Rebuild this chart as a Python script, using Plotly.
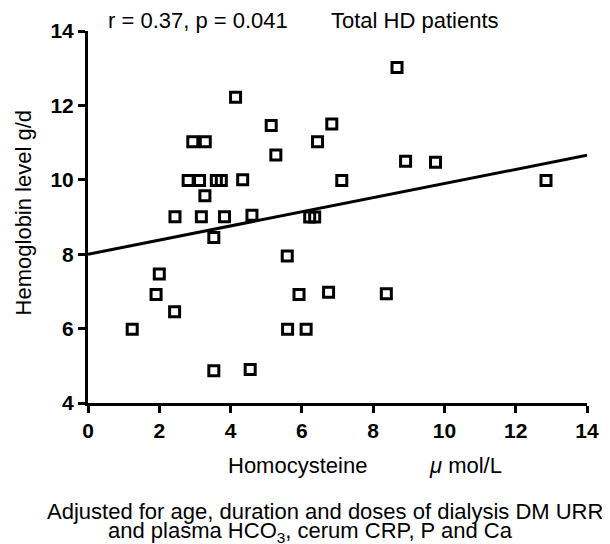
import plotly.graph_objects as go

# Homocysteine (µmol/L) vs hemoglobin (g/dl) values
homocysteine = [1.24, 1.91, 2.00, 2.43, 2.44, 2.81, 2.94, 3.13, 3.18, 3.29,
                3.28, 3.53, 3.53, 3.60, 3.74, 3.83, 4.14, 4.34, 4.55,
                4.60, 5.14, 5.27, 5.59, 5.60, 5.92, 6.12, 6.22, 6.36,
                6.44, 6.75, 6.84, 7.12, 8.37, 8.67, 8.91, 9.75, 12.85]
hemoglobin = [5.98, 6.92, 7.47, 6.45, 9.01, 9.98, 11.02, 9.98, 9.01, 11.02,
              9.57, 8.45, 4.87, 9.98, 9.98, 9.01, 12.22, 10.00, 4.90,
              9.05, 11.46, 10.67, 7.95, 5.98, 6.92, 5.98, 9.00, 9.00,
              11.02, 6.98, 11.50, 9.98, 6.94, 13.02, 10.50, 10.47, 9.98]

# Regression line end points (adjusted fit)
fit_x = [0, 14]
fit_y = [8.0, 10.66]

x_ticks = [0, 2, 4, 6, 8, 10, 12, 14]
y_ticks = [4, 6, 8, 10, 12, 14]

FONT = "Liberation Sans, Arial, sans-serif"

fig = go.Figure()
fig.add_trace(go.Scatter(
    x=fit_x, y=fit_y, mode="lines",
    line=dict(color="black", width=3), hoverinfo="skip", cliponaxis=False))
fig.add_trace(go.Scatter(
    x=homocysteine, y=hemoglobin, mode="markers",
    marker=dict(symbol="square-open", size=10, color="black",
                line=dict(color="black", width=3)),
    cliponaxis=False))

axis_common = dict(
    showgrid=False, zeroline=False, showline=True, linecolor="black",
    linewidth=3, ticks="outside", ticklen=7, tickwidth=3, tickcolor="black",
    tickfont=dict(family=FONT, size=21, color="black", weight="bold"),
)

# page has an 8px body margin, so the figure is drawn at 602x536 offset by 8px
fig.update_layout(
    width=602, height=536,
    margin=dict(l=80, r=23, t=23, b=141),
    paper_bgcolor="white", plot_bgcolor="white",
    showlegend=False,
    xaxis=dict(range=[0, 14], tickvals=x_ticks, **axis_common),
    yaxis=dict(range=[4, 14], tickvals=y_ticks, **axis_common),
    font=dict(family=FONT, size=22, color="black"),
)

annos = [
    dict(text="r = 0.37, p = 0.041", x=0.2204, y=1.029),
    dict(text="Total HD patients", x=0.655, y=1.029),
    dict(text="Homocysteine", x=0.42, y=-0.168),
    dict(text="<i>μ</i> mol/L", x=0.7575, y=-0.168),
    dict(text="Adjusted for age, duration and doses of dialysis DM URR",
         x=0.475, y=-0.292),
    dict(text="and plasma HCO<sub>3</sub>, cerum CRP, P and Ca",
         x=0.445, y=-0.346),
]
for a in annos:
    fig.add_annotation(xref="paper", yref="paper", showarrow=False,
                       xanchor="center", yanchor="middle",
                       font=dict(family=FONT, size=22, color="black"), **a)

fig.add_annotation(xref="paper", yref="paper", showarrow=False,
                   text="Hemoglobin level g/d", textangle=-90,
                   x=-0.13, y=0.51, xanchor="center", yanchor="middle",
                   font=dict(family=FONT, size=22, color="black"))

fig.write_html("out.html")
